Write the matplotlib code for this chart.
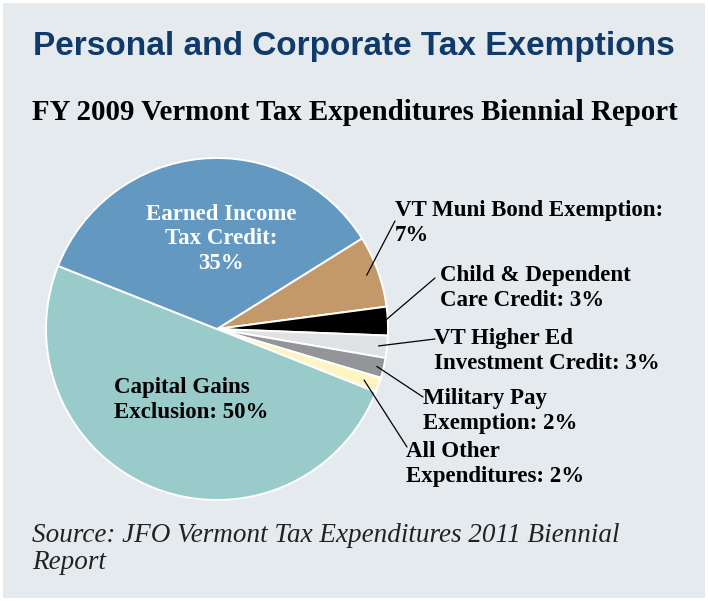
import matplotlib
matplotlib.use("Agg")
import matplotlib.pyplot as plt
from matplotlib.patches import Rectangle
import numpy as np

# ---- data (clockwise from the top-right) ----
categories = ["VT Muni Bond Exemption", "Child & Dependent Care Credit",
              "VT Higher Ed Investment Credit", "Military Pay Exemption",
              "All Other Expenditures", "Capital Gains Exclusion",
              "Earned Income Tax Credit"]
values = [6.8, 2.7, 2.1, 1.9, 1.4, 50.0, 35.1]
labels = ["VT Muni Bond Exemption:\n7%",
          "Child & Dependent\nCare Credit: 3%",
          "VT Higher Ed\nInvestment Credit: 3%",
          "Military Pay\nExemption: 2%",
          "All Other\nExpenditures: 2%",
          "Capital Gains\nExclusion: 50%",
          "Earned Income\nTax Credit:\n35%"]
colors = ["#c4996a", "#000000", "#e0e1e3", "#939598", "#fff5c2", "#9acbcb", "#6399c1"]

title = "Personal and Corporate Tax Exemptions"
subtitle = "FY 2009 Vermont Tax Expenditures Biennial Report"
source = "Source: JFO Vermont Tax Expenditures 2011 Biennial\nReport"

W, H = 708, 601
fig = plt.figure(figsize=(W / 100, H / 100), dpi=100, facecolor="white")

def fx(x):
    return x / W

def fy(y):
    return 1 - y / H

# panel background
fig.patches.append(Rectangle((fx(3), fy(598)), fx(702), 595 / H, transform=fig.transFigure,
                             facecolor="#e5eaee", edgecolor="none", zorder=-5))

navy = "#0f3a6a"
serif = ["Liberation Serif", "DejaVu Serif"]
sans = ["Liberation Sans", "DejaVu Sans"]

fig.text(fx(354), fy(46), title, ha="center", va="center", color=navy,
         fontsize=24, fontweight="bold", family=sans, zorder=5)
fig.text(fx(355), fy(112), subtitle, ha="center", va="center", color="black",
         fontsize=20.8, fontweight="bold", family=serif, zorder=5)

# pie axes
cx, cy, R = 217, 329, 171
ax = fig.add_axes([fx(cx - R), fy(cy + R), 2 * R / W, 2 * R / H], zorder=2)
wedges, _ = ax.pie(values, colors=colors, startangle=32, counterclock=False,
                   wedgeprops=dict(edgecolor="white", linewidth=1.4))
for w in wedges:
    w.set_clip_on(False)
ax.set_xlim(-1, 1)
ax.set_ylim(-1, 1)
ax.set_aspect("equal")
ax.axis("off")

lab_fs = 16.5
ls = 1.2
# inside labels
fig.text(fx(221), fy(239), labels[6], ha="center", va="center", color="white",
         fontsize=lab_fs, fontweight="bold", family=serif, linespacing=ls, zorder=5)
fig.text(fx(114), fy(400), labels[5], ha="left", va="center", color="black",
         fontsize=lab_fs, fontweight="bold", family=serif, linespacing=ls, zorder=5)

# outside labels: text position (left, center px), leader end px, radius fraction
text_pos = [(395, 223), (440, 288), (434, 351), (423, 411), (406, 464)]
line_end = [(395, 221), (435, 278), (435, 339), (423, 397), (407, 447)]
rfrac = [0.93, 0.98, 0.95, 0.96, 0.91]
for i in range(5):
    w = wedges[i]
    ang = np.deg2rad((w.theta1 + w.theta2) / 2)
    r = rfrac[i]
    ax.annotate("", xy=(r * np.cos(ang), r * np.sin(ang)), xycoords="data",
                xytext=(fx(line_end[i][0]), fy(line_end[i][1])), textcoords="figure fraction",
                arrowprops=dict(arrowstyle="-", lw=0.9, color="black",
                                shrinkA=0, shrinkB=0), annotation_clip=False)
    fig.text(fx(text_pos[i][0]), fy(text_pos[i][1]), labels[i], ha="left", va="center",
             color="black", fontsize=lab_fs, fontweight="bold", family=serif,
             linespacing=ls, zorder=5)

fig.text(fx(32), fy(549), source, ha="left", va="center", color="#222222",
         fontsize=19.5, fontstyle="italic", family=serif, linespacing=1.12, zorder=5)

fig.savefig("out.png", dpi=100, facecolor="white")
